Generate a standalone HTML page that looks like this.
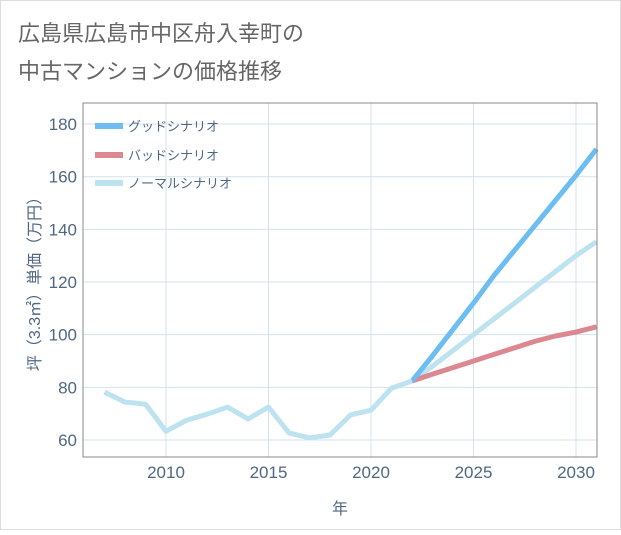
<!DOCTYPE html>
<html><head><meta charset="utf-8"><style>
body{margin:0;background:#fff;}
svg text{font-family:"Liberation Sans","Noto Sans CJK JP",sans-serif;}
</style></head><body>
<svg width="621" height="530" viewBox="0 0 621 530" xmlns="http://www.w3.org/2000/svg">
<rect x="0.5" y="0.5" width="620" height="529" fill="#fff" stroke="#ddd"/>
<text x="18" y="41" font-size="22" fill="#666">広島県広島市中区舟入幸町の</text>
<text x="18" y="79" font-size="22" fill="#666">中古マンションの価格推移</text>
<g id="grid"></g>
<g id="series"></g>
<rect x="83" y="103" width="514" height="354" fill="none" stroke="#888"/>
<g id="axes"></g>
<text x="340" y="514" font-size="16" fill="#506784" text-anchor="middle">年</text>
<text transform="translate(40,280) rotate(-90)" font-size="16" fill="#506784" text-anchor="middle">坪（3.3㎡）単価（万円）</text>
<g>
<line x1="95" y1="126" x2="123" y2="126" stroke="#6bbdf2" stroke-width="6"/>
<text x="128" y="131" font-size="13" fill="#506784">グッドシナリオ</text>
<line x1="95" y1="155" x2="123" y2="155" stroke="#dd8890" stroke-width="6"/>
<text x="128" y="160" font-size="13" fill="#506784">バッドシナリオ</text>
<line x1="95" y1="183" x2="123" y2="183" stroke="#bde2f0" stroke-width="6"/>
<text x="128" y="188" font-size="13" fill="#506784">ノーマルシナリオ</text>
</g>
</svg>
<script>
const histYears=[2007,2008,2009,2010,2011,2012,2013,2014,2015,2016,2017,2018,2019,2020,2021,2022];
const histValues=[78.2,74.4,73.6,63.3,67.5,69.8,72.5,68,72.5,62.7,60.8,61.9,69.5,71.3,79.7,82.4];
const futYears=[2022,2023,2024,2025,2026,2027,2028,2029,2030,2031];
const goodValues=[82.4,92,102,112,122.5,132,141.5,151,160.5,170.5];
const normalValues=[82.4,88,94,100,106,112,118,124,130,135.3];
const badValues=[82.4,85,87.5,90,92.5,95,97.5,99.5,101,103];
const xTicks=[2010,2015,2020,2025,2030];
const yTicks=[60,80,100,120,140,160,180];
const NS="http://www.w3.org/2000/svg";
function X(y){return 166+(y-2010)*20.5;}
function Y(v){return 440-(v-60)*2.633;}
const grid=document.getElementById('grid'),axes=document.getElementById('axes'),ser=document.getElementById('series');
function mk(tag,attrs,parent){const e=document.createElementNS(NS,tag);for(const k in attrs)e.setAttribute(k,attrs[k]);parent.appendChild(e);return e;}
xTicks.forEach(t=>{
 const l=mk('line',{x1:X(t),x2:X(t),y1:103,y2:457,stroke:'#d3e3ee','stroke-width':1},grid);
 
 
 const tx=mk('text',{x:X(t),y:478,'font-size':17,fill:'#506784','text-anchor':'middle'},axes);
 tx.textContent=t;
 
 
});
yTicks.forEach(t=>{
 const l=mk('line',{x1:83,x2:597,y1:Y(t),y2:Y(t),stroke:'#d3e3ee','stroke-width':1},grid);
 
 
 const tx=mk('text',{x:77,y:Y(t)+6,'font-size':17,fill:'#506784','text-anchor':'end'},axes);
 tx.textContent=t;
 
 
});
function line(xs,vs,color,name){
 const p=mk('polyline',{points:xs.map((x,i)=>X(x)+','+Y(vs[i])).join(' '),fill:'none',stroke:color,'stroke-width':5,'stroke-linejoin':'round'},ser);
 
 
}
line(futYears,normalValues,'#bde2f0','normal-scenario-line');
line(futYears,badValues,'#dd8890','bad-scenario-line');
line(futYears,goodValues,'#6bbdf2','good-scenario-line');
line(histYears,histValues,'#bde2f0','historical-line');
</script>
</body></html>
